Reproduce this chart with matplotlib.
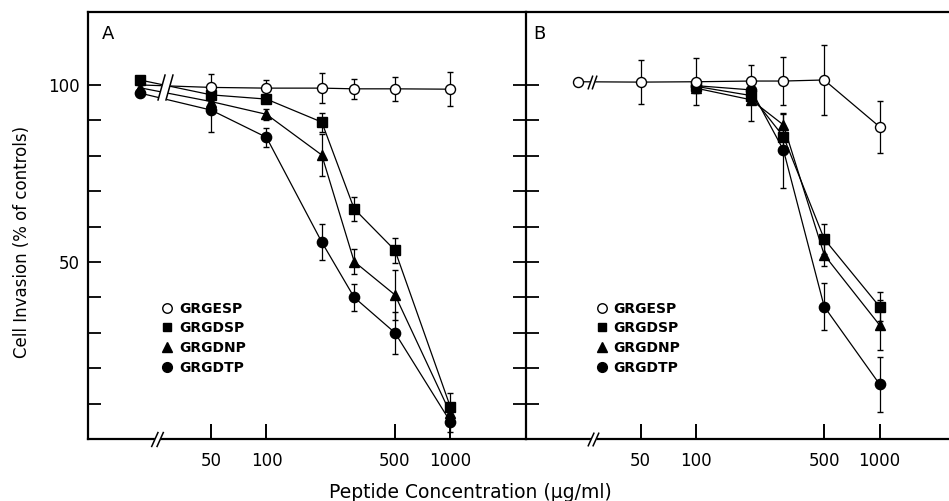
import numpy as np
import matplotlib
matplotlib.use("Agg")
import matplotlib.pyplot as plt
from matplotlib.path import Path
from matplotlib.lines import Line2D

plt.rcParams['font.family'] = ['DejaVu Sans']

# ---------------- data ----------------
conc = [0, 50, 100, 200, 300, 500, 1000]          # 0 = control
conc_b_solid = [100, 200, 300, 500, 1000]
series = ["GRGESP", "GRGDSP", "GRGDNP", "GRGDTP"]

# Panel A
a_esp = [100.0, 99.3, 99.1, 99.1, 98.9, 98.9, 98.8]
a_esp_err = [0, 3.7, 2.3, 4.2, 2.8, 3.3, 4.8]
a_dsp = [101.4, 97.2, 96.0, 89.5, 65.0, 53.3, 9.1]
a_dsp_err = [0, 1.0, 1.0, 2.7, 3.4, 3.5, 3.8]
a_dnp = [99.2, 95.3, 91.7, 80.2, 50.1, 40.7, 7.3]
a_dnp_err = [0, 1.5, 1.5, 5.9, 3.5, 7.0, 2.0]
a_dtp = [97.7, 92.9, 85.2, 55.6, 40.0, 30.0, 4.9]
a_dtp_err = [0, 6.3, 2.7, 5.0, 3.9, 5.9, 3.0]

# Panel B
b_esp = [100.9, 100.8, 100.9, 101.1, 101.1, 101.4, 88.2]
b_esp_err = [0, 6.2, 6.7, 4.4, 6.8, 10.0, 7.3]
b_dsp = [99.6, 97.0, 85.4, 56.5, 37.4]
b_dsp_err = [1.0, 2.0, 3.0, 4.3, 4.0]
b_dnp = [99.1, 95.8, 88.7, 52.0, 32.2]
b_dnp_err = [1.5, 6.0, 3.0, 3.0, 7.0]
b_dtp = [99.8, 98.6, 81.6, 37.4, 15.5]
b_dtp_err = [1.0, 2.0, 10.6, 6.6, 7.8]

xticks = [50, 100, 500, 1000]
xtick_labels = ["50", "100", "500", "1000"]
yticks_minor = [10, 20, 30, 40, 50, 60, 70, 80, 90, 100]
yticks_labeled = [50, 100]

# ---------------- styles ----------------
styles = {
    "GRGESP": dict(marker='o', mfc='white', ms=7.2),
    "GRGDSP": dict(marker='s', mfc='black', ms=6.8),
    "GRGDNP": dict(marker='^', mfc='black', ms=7.8),
    "GRGDTP": dict(marker='o', mfc='black', ms=7.4),
}

W, H = 949, 501
fig = plt.figure(figsize=(W / 100, H / 100), dpi=100)

def fx(px):
    return px / W

def fy(py):
    return 1 - py / H

axA = fig.add_axes([fx(88), fy(439), fx(526) - fx(88), fy(12) - fy(439)])
axB = fig.add_axes([fx(526), fy(439), fx(948) - fx(526), fy(12) - fy(439)])

ctrl_pos = {"A": 20.5, "B": 22.7}
xlims = {"A": (10.7, 2580), "B": (11.9, 2360)}


def break_paths(slant, gap):
    s = slant
    g = gap / 2
    strokes = Path([(-g - s, -1), (-g + s, 1), (g - s, -1), (g + s, 1)],
                   [Path.MOVETO, Path.LINETO, Path.MOVETO, Path.LINETO])
    mask = Path([(-g - s, -1), (g - s, -1), (g + s, 1), (-g + s, 1), (-g - s, -1)],
                [Path.MOVETO, Path.LINETO, Path.LINETO, Path.LINETO, Path.CLOSEPOLY])
    return strokes, mask


def draw_break(ax, x, y, size, slant, gap, lw=1.1):
    strokes, mask = break_paths(slant, gap)
    kw = dict(clip_on=False, linestyle='none')
    ax.plot([x], [y], marker=mask, ms=size, mfc='white', mec='white', mew=0.5,
            zorder=6, **kw)
    ax.plot([x], [y], marker=strokes, ms=size, mfc='none', mec='black', mew=lw,
            zorder=7, **kw)


def plot_series(ax, xs, ys, errs, name, z, markevery=None):
    st = styles[name]
    ax.errorbar(xs, ys, yerr=errs, fmt='-', color='black', lw=0.9,
                marker=st['marker'], mfc=st['mfc'], mec='black', mew=1.0,
                ms=st['ms'], elinewidth=0.9, capsize=2.3, capthick=0.9,
                zorder=z, markevery=markevery)


for key, ax in (("A", axA), ("B", axB)):
    ax.set_xscale('log')
    ax.set_xlim(*xlims[key])
    ax.set_ylim(0, 120.6)
    xs_full = [ctrl_pos[key] if c == 0 else c for c in conc]
    if key == "A":
        plot_series(ax, xs_full, a_dtp, a_dtp_err, "GRGDTP", 3)
        plot_series(ax, xs_full, a_dnp, a_dnp_err, "GRGDNP", 3.1)
        plot_series(ax, xs_full, a_dsp, a_dsp_err, "GRGDSP", 3.2)
        # control marker of GRGESP is hidden behind the stacked solid controls
        plot_series(ax, xs_full, a_esp, a_esp_err, "GRGESP", 3.3,
                    markevery=slice(1, None))
    else:
        plot_series(ax, conc_b_solid, b_dtp, b_dtp_err, "GRGDTP", 3)
        plot_series(ax, conc_b_solid, b_dnp, b_dnp_err, "GRGDNP", 3.1)
        plot_series(ax, conc_b_solid, b_dsp, b_dsp_err, "GRGDSP", 3.2)
        plot_series(ax, xs_full, b_esp, b_esp_err, "GRGESP", 3.3)

    ax.set_xticks(xticks)
    ax.set_xticklabels(xtick_labels)
    ax.xaxis.set_minor_locator(matplotlib.ticker.NullLocator())
    ax.tick_params(axis='x', which='major', direction='in', length=11, width=1.4,
                   pad=9, labelsize=12, top=False)
    ax.set_yticks(yticks_minor)
    ax.tick_params(axis='y', which='major', direction='in', length=9.5, width=1.3,
                   labelsize=12, pad=6)
    for sp in ax.spines.values():
        sp.set_linewidth(1.6)

axA.set_yticklabels([str(t) if t in yticks_labeled else "" for t in yticks_minor])
axA.tick_params(axis='y', right=True, left=True)
axB.tick_params(axis='y', left=True, right=False, labelleft=False)
axB.spines['right'].set_visible(False)
axA.spines['right'].set_visible(False)

# break marks: on axis and on data lines
draw_break(axA, 25.5, 0, 11, 0.45, 0.7)
draw_break(axB, 27.4, 0, 10, 0.45, 0.7)
draw_break(axA, 28.2, 99.3, 19, 0.28, 0.6)
draw_break(axB, 27.1, 100.9, 10, 0.35, 0.6)

# legends
handles = [Line2D([], [], linestyle='none', color='black', marker=styles[n]['marker'],
                  mfc=styles[n]['mfc'], mec='black', mew=1.0,
                  ms=styles[n]['ms'] * 0.95) for n in series]
for ax, x0 in ((axA, 0.168), (axB, 0.166)):
    ax.legend(handles, series, loc='upper left', bbox_to_anchor=(x0, 0.322),
              frameon=False, borderpad=0, borderaxespad=0, handlelength=0.8,
              handletextpad=0.45, labelspacing=0.42,
              prop=dict(weight='bold', size=10))

# panel letters
fig.text(fx(102), fy(34), "A", fontsize=13, va='center', ha='left')
fig.text(fx(533), fy(34), "B", fontsize=13, va='center', ha='left')

# axis labels
fig.text(fx(22), fy(242), "Cell Invasion (% of controls)", rotation=90,
         fontsize=12, ha='center', va='center')
fig.text(fx(470), fy(492), "Peptide Concentration (\u00b5g/ml)", fontsize=13.5,
         ha='center', va='center')

fig.savefig("out.png", dpi=100)
